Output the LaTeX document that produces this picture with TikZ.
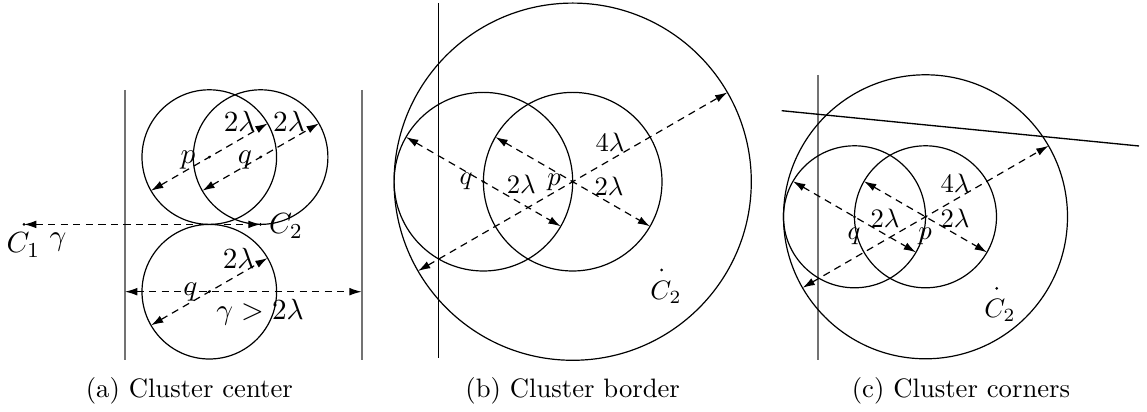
\documentclass[tikz,border=0pt]{standalone}
\usetikzlibrary{arrows.meta,calc}
\begin{document}
\begin{tikzpicture}[x=0.375pt,y=-0.375pt,
  circ/.style={line width=0.45pt},
  dimline/.style={line width=0.45pt,dash pattern=on 2.7pt off 2pt,{Latex[length=4.6pt,width=2.9pt]}-{Latex[length=4.6pt,width=2.9pt]}},
  wall/.style={line width=0.8pt,black!55},
  bwall/.style={line width=0.5pt,black},
  dotpt/.style={fill=black},
  lblA/.style={inner sep=0pt,font=\fontsize{11.4}{13}\selectfont},
  lbl/.style={inner sep=0pt},
  captext/.style={anchor=base,inner sep=0pt}]
\useasboundingbox (0,0) rectangle (1147,412);

% ---------------- panel (a)
\coordinate (wa1t) at (125,90);  \coordinate (wa1b) at (125,360);
\coordinate (wa2t) at (361.7,90); \coordinate (wa2b) at (361.7,360);
\draw[wall] (wa1t) -- (wa1b);
\draw[wall] (wa2t) -- (wa2b);
\coordinate (pA) at (209.3,157.1);
\coordinate (qA) at (260.6,157.1);
\coordinate (q2A) at (209.3,291.7);
\coordinate (C1) at (24,224.4);
\coordinate (C2a) at (260.6,224.4);
\draw[circ] (pA) circle (67.3);
\draw[circ] (qA) circle (67.3);
\draw[circ] (q2A) circle (67.3);
\coordinate (pAl) at ($(pA)+(-58.28,33.65)$); \coordinate (pAu) at ($(pA)+(58.28,-33.65)$);
\coordinate (qAl) at ($(qA)+(-58.28,33.65)$); \coordinate (qAu) at ($(qA)+(58.28,-33.65)$);
\coordinate (q2Al) at ($(q2A)+(-58.28,33.65)$); \coordinate (q2Au) at ($(q2A)+(58.28,-33.65)$);
\draw[dimline] (pAl) -- (pAu);
\draw[dimline] (qAl) -- (qAu);
\draw[dimline] (q2Al) -- (q2Au);
\coordinate (hL) at (125,291.7); \coordinate (hR) at (361.7,291.7);
\draw[dimline] (hL) -- (hR);
\draw[dimline] (C1) -- (C2a);
\foreach \c in {pA,qA,q2A,C1,C2a} \fill[dotpt] (\c) circle (1.5);
\node[lblA] (lpA) at (188,160) {$p$};
\node[lblA] (lqA) at (245,160) {$q$};
\node[lblA] (l2a1) at (239.7,121.7) {$2\lambda$};
\node[lblA] (l2a2) at (289,121.7) {$2\lambda$};
\node[lblA] (l2a3) at (238.7,258) {$2\lambda$};
\node[lblA] (lq2A) at (190.5,291.7) {$q$};
\node[lblA] (lgam) at (260,312) {$\gamma > 2\lambda$};
\node[lblA] (lC2a) at (286,226) {$C_2$};
\node[lblA] (lC1) at (23.3,245) {$C_1$};
\node[lblA] (lg1) at (58,242) {$\gamma$};

% ---------------- panel (b)
\coordinate (wbt) at (438.3,3); \coordinate (wbb) at (438.3,358);
\draw[bwall] (wbt) -- (wbb);
\coordinate (pB) at (572.7,181.7);
\coordinate (qB) at (483.4,181.7);
\coordinate (C2b) at (661.7,270);
\draw[circ] (pB) circle (178.6);
\draw[circ] (pB) circle (89.3);
\draw[circ] (qB) circle (89.3);
\coordinate (bBl) at ($(pB)+(-154.67,89.3)$); \coordinate (bBu) at ($(pB)+(154.67,-89.3)$);
\coordinate (pBl) at ($(pB)+(-77.33,-44.65)$); \coordinate (pBr) at ($(pB)+(77.33,44.65)$);
\coordinate (qBl) at ($(qB)+(-77.33,-44.65)$); \coordinate (qBr) at ($(qB)+(77.33,44.65)$);
\draw[dimline] (bBl) -- (bBu);
\draw[dimline] (pBl) -- (pBr);
\draw[dimline] (qBl) -- (qBr);
\foreach \c in {pB,qB,C2b} \fill[dotpt] (\c) circle (1.5);
\node[lbl] (lqB) at (466,181) {$q$};
\node[lbl] (l2b1) at (521.3,184) {$2\lambda$};
\node[lbl] (lpB) at (554,182) {$p$};
\node[lbl] (l2b2) at (609,186) {$2\lambda$};
\node[lbl] (l4b) at (610,142.5) {$4\lambda$};
\node[lbl] (lC2b) at (666,292) {$C_2$};

% ---------------- panel (c)
\coordinate (wct) at (818.3,75); \coordinate (wcb) at (818.3,360);
\draw[wall] (wct) -- (wcb);
\coordinate (sl1) at (781.7,110.7); \coordinate (sl2) at (1139,146);
\draw[bwall] (sl1) -- (sl2);
\coordinate (pC) at (925.5,216.8);
\coordinate (qC) at (854.5,216.8);
\coordinate (C2c) at (996.7,288.3);
\draw[circ] (pC) circle (142);
\draw[circ] (pC) circle (71);
\draw[circ] (qC) circle (71);
\coordinate (bCl) at ($(pC)+(-122.97,71)$); \coordinate (bCu) at ($(pC)+(122.97,-71)$);
\coordinate (pCl) at ($(pC)+(-61.49,-35.5)$); \coordinate (pCr) at ($(pC)+(61.49,35.5)$);
\coordinate (qCl) at ($(qC)+(-61.49,-35.5)$); \coordinate (qCr) at ($(qC)+(61.49,35.5)$);
\draw[dimline] (bCl) -- (bCu);
\draw[dimline] (pCl) -- (pCr);
\draw[dimline] (qCl) -- (qCr);
\foreach \c in {pC,qC,C2c} \fill[dotpt] (\c) circle (1.5);
\node[lbl] (lqC) at (854,236) {$q$};
\node[lbl] (lpC) at (925,236) {$p$};
\node[lbl] (l2c1) at (885,218) {$2\lambda$};
\node[lbl] (l2c2) at (955,218) {$2\lambda$};
\node[lbl] (l4c) at (955,183) {$4\lambda$};
\node[lbl] (lC2c) at (1000,310) {$C_2$};

% ---------------- captions
\node[captext] (capa) at (189.3,398) {(a) Cluster center};
\node[captext] (capb) at (572.7,398) {(b) Cluster border};
\node[captext] (capc) at (961,398) {(c) Cluster corners};
\end{tikzpicture}
\end{document}
